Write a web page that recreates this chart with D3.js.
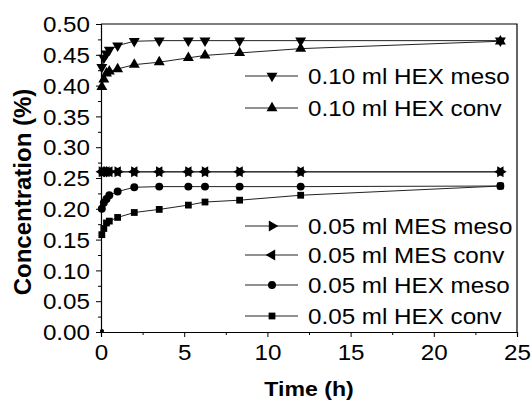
<!DOCTYPE html>
<html>
<head>
<meta charset="utf-8">
<script src="https://cdn.jsdelivr.net/npm/d3@7/dist/d3.min.js"></script>
<style>
  body { margin: 0; background: #fff; }
  text { font-family: "Liberation Sans", Arial, sans-serif; fill: #000; }
</style>
</head>
<body>
<svg width="531" height="404"></svg>
<script>
// Sampling times (h) and concentrations (%)
var hours = [0.05, 0.17, 0.33, 0.5, 1, 2, 3.5, 5.25, 6.25, 8.33, 12, 24];
var hexMeso10 = [0.430, 0.445, 0.452, 0.458, 0.465, 0.472, 0.473, 0.473, 0.473, 0.473, 0.473, 0.473];
var hexConv10 = [0.398, 0.410, 0.420, 0.423, 0.427, 0.434, 0.438, 0.445, 0.449, 0.453, 0.460, 0.472];
var mesMeso05 = [0.260, 0.260, 0.260, 0.260, 0.260, 0.260, 0.260, 0.260, 0.260, 0.260, 0.260, 0.260];
var mesConv05 = [0.260, 0.260, 0.260, 0.260, 0.260, 0.260, 0.260, 0.260, 0.260, 0.260, 0.260, 0.260];
var hexMeso05 = [0.200, 0.210, 0.216, 0.222, 0.228, 0.235, 0.236, 0.236, 0.236, 0.236, 0.236, 0.237];
var hexConv05 = [0.158, 0.168, 0.177, 0.180, 0.186, 0.194, 0.199, 0.206, 0.211, 0.214, 0.222, 0.237];
// initial reading at t = 0
var startHours = [0];
var startValues = [0];

var xTicks = [0, 5, 10, 15, 20, 25];
var yTicks = [0, 0.05, 0.10, 0.15, 0.20, 0.25, 0.30, 0.35, 0.40, 0.45, 0.50];

var series = [
  { name: "0.10 ml HEX meso", values: hexMeso10, symbol: d3.symbolTriangle, rot: 180, size: 52 },
  { name: "0.10 ml HEX conv", values: hexConv10, symbol: d3.symbolTriangle, rot: 0, size: 52 },
  { name: "0.05 ml MES meso", values: mesMeso05, symbol: d3.symbolTriangle, rot: 90, size: 52 },
  { name: "0.05 ml MES conv", values: mesConv05, symbol: d3.symbolTriangle, rot: -90, size: 52 },
  { name: "0.05 ml HEX meso", values: hexMeso05, symbol: d3.symbolCircle, rot: 0, size: 50 },
  { name: "0.05 ml HEX conv", values: hexConv05, symbol: d3.symbolSquare, rot: 0, size: 46 }
];

var svg = d3.select("svg");
var plotLeft = 101, plotRight = 517, plotTop = 24, plotBottom = 332;
var FONT_STRETCH = 1.1;

var x = d3.scaleLinear().domain([0, 25]).range([plotLeft, plotRight]);
var y = d3.scaleLinear().domain([0, 0.5]).range([plotBottom, plotTop]);

// Horizontal text in the picture is a bit wider than the font
function stretch(sel, k) {
  sel.each(function() {
    var w = this.getComputedTextLength();
    d3.select(this).attr("textLength", w * k).attr("lengthAdjust", "spacingAndGlyphs");
  });
}

// Frame (top and right)
svg.append("path")
  .attr("d", "M" + plotLeft + "," + plotTop + "H" + plotRight + "V" + plotBottom)
  .attr("fill", "none").attr("stroke", "#000").attr("stroke-width", 1.2);

// Axes
var xAxis = svg.append("g")
  .attr("transform", "translate(0," + plotBottom + ")")
  .call(d3.axisBottom(x).tickValues(xTicks).tickSize(5).tickFormat(d3.format("d")));
svg.append("g")
  .attr("transform", "translate(0," + plotBottom + ")")
  .call(d3.axisBottom(x).tickValues(d3.range(2.5, 25, 5)).tickSize(3).tickFormat(""))
  .select(".domain").remove();

var yAxis = svg.append("g")
  .attr("transform", "translate(" + plotLeft + ",0)")
  .call(d3.axisLeft(y).tickValues(yTicks).tickSize(5).tickFormat(d3.format(".2f")));
svg.append("g")
  .attr("transform", "translate(" + plotLeft + ",0)")
  .call(d3.axisLeft(y).tickValues(d3.range(0.025, 0.5, 0.05)).tickSize(3).tickFormat(""))
  .select(".domain").remove();

svg.selectAll(".domain").attr("stroke", "#000").attr("stroke-width", 1.2);
svg.selectAll(".tick line").attr("stroke", "#000").attr("stroke-width", 1);

xAxis.selectAll(".tick text")
  .attr("font-size", 22).attr("y", 12).attr("dy", "0.71em")
  .style("font-family", "Liberation Sans, Arial, sans-serif")
  .call(stretch, FONT_STRETCH);
yAxis.selectAll(".tick text")
  .attr("font-size", 22).attr("x", -11).attr("dy", "0.35em")
  .style("font-family", "Liberation Sans, Arial, sans-serif")
  .call(stretch, FONT_STRETCH);

// Axis titles
svg.append("text")
  .attr("x", (plotLeft + plotRight) / 2).attr("y", 396)
  .attr("text-anchor", "middle")
  .attr("font-size", 21).attr("font-weight", "bold")
  .text("Time (h)")
  .call(stretch, FONT_STRETCH);

svg.append("text")
  .attr("transform", "translate(31,192) rotate(-90)")
  .attr("text-anchor", "middle")
  .attr("font-size", 24).attr("font-weight", "bold")
  .text("Concentration (%)");

// Lines and markers
var line = d3.line()
  .x(function(d) { return x(d[0]); })
  .y(function(d) { return y(d[1]); });

function marker(s) {
  return d3.symbol().type(s.symbol).size(s.size)();
}

series.forEach(function(s) {
  var pts = hours.map(function(h, i) { return [h, s.values[i]]; });
  svg.append("path")
    .datum(pts)
    .attr("d", line)
    .attr("fill", "none").attr("stroke", "#222").attr("stroke-width", 1);
  svg.append("g").selectAll("path")
    .data(pts)
    .enter().append("path")
    .attr("d", marker(s))
    .attr("transform", function(d) { return "translate(" + x(d[0]) + "," + y(d[1]) + ") rotate(" + s.rot + ")"; })
    .attr("fill", "#000");
});

// Initial point at origin
svg.selectAll(".start")
  .data(startHours)
  .enter().append("circle")
  .attr("class", "start")
  .attr("cx", function(d) { return x(d) + 1; })
  .attr("cy", function(d, i) { return y(startValues[i]) - 1; })
  .attr("r", 2)
  .attr("fill", "#000");

// Legends
var legendRows = [
  { s: series[0], y: 76 }, { s: series[1], y: 108 },
  { s: series[2], y: 226 }, { s: series[3], y: 255 },
  { s: series[4], y: 285 }, { s: series[5], y: 316 }
];
var leg = svg.selectAll(".legend")
  .data(legendRows)
  .enter().append("g")
  .attr("class", "legend")
  .attr("transform", function(d) { return "translate(0," + d.y + ")"; });
leg.append("line")
  .attr("x1", 245).attr("x2", 298)
  .attr("stroke", "#222").attr("stroke-width", 1);
leg.append("path")
  .attr("d", function(d) { return marker(d.s); })
  .attr("transform", function(d) { return "translate(272,0) rotate(" + d.s.rot + ")"; })
  .attr("fill", "#000");
leg.append("text")
  .attr("x", 308).attr("dy", "0.35em")
  .attr("font-size", 22)
  .text(function(d) { return d.s.name; })
  .call(stretch, FONT_STRETCH);
</script>
</body>
</html>
